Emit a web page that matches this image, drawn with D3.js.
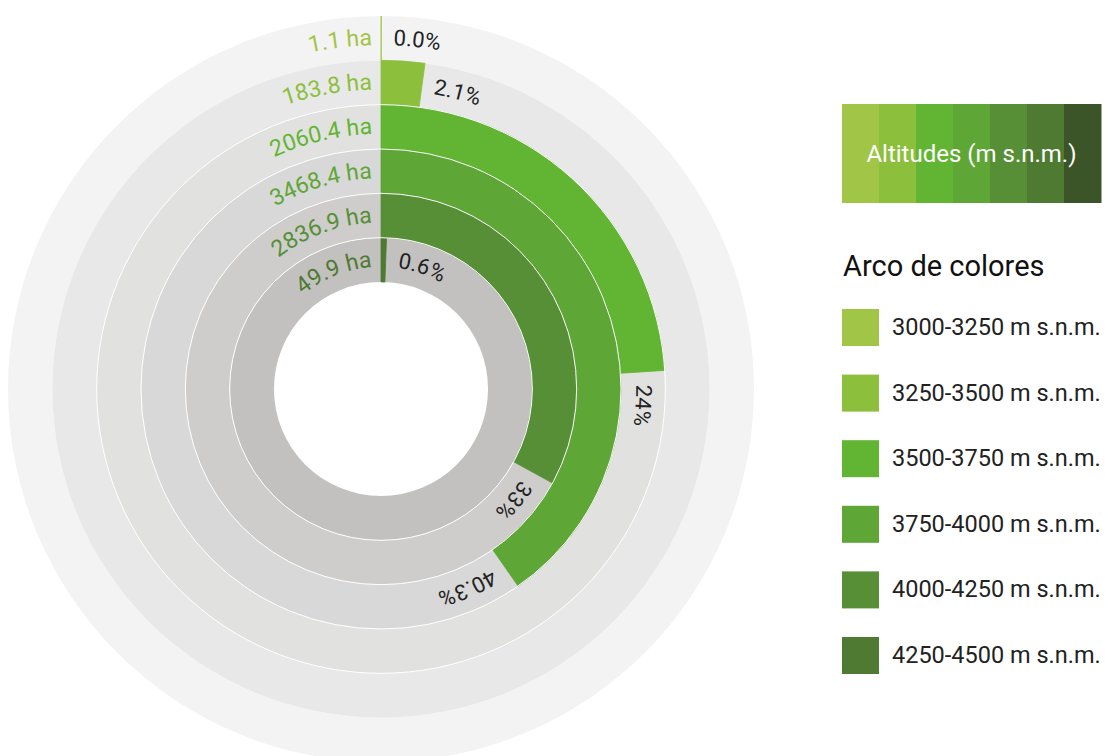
<!DOCTYPE html>
<html>
<head>
<meta charset="utf-8">
<script src="https://cdn.jsdelivr.net/npm/d3@7"></script>
<style>
  html, body { margin: 0; padding: 0; background: #ffffff; }
  svg { display: block; font-family: Roboto, "Noto Sans", sans-serif; }
</style>
</head>
<body>
<svg id="chart" width="1105" height="756"></svg>
<script>
// Altitude bands, outermost ring first
const bands = [
  "3000-3250 m s.n.m.",
  "3250-3500 m s.n.m.",
  "3500-3750 m s.n.m.",
  "3750-4000 m s.n.m.",
  "4000-4250 m s.n.m.",
  "4250-4500 m s.n.m."
];
// Surface per band, hectares
const hectares = [1.1, 183.8, 2060.4, 3468.4, 2836.9, 49.9];
// Share of the total surface, as printed on each ring
const percentLabels = ["0.0%", "2.1%", "24%", "40.3%", "33%", "0.6%"];
// Colour of each band
const bandColors = ["#a1c546", "#8cbf3c", "#62b533", "#5ea636", "#578f36", "#4f7a31"];
// Grey track under each ring
const trackColors = ["#f3f3f3", "#e8e8e8", "#e1e2e0", "#d7d8d7", "#cecdcc", "#c3c1c0"];
// Colour ramp shown in the legend header
const rampColors = ["#a1c546", "#8cbf3c", "#62b533", "#5ea636", "#578f36", "#4f7a31", "#3c5528"];

const svg = d3.select("#chart");
const cx = 381, cy = 389;
const innerHole = 107, outerEdge = 373;

const total = d3.sum(hectares);
const angle = d3.scaleLinear().domain([0, total]).range([0, 2 * Math.PI]);

// innermost band at the bottom of the radial range
const radius = d3.scaleBand()
  .domain(bands.slice().reverse())
  .range([innerHole, outerEdge])
  .padding(0);

const rows = bands.map((b, i) => ({
  band: b,
  ha: hectares[i],
  pct: percentLabels[i],
  color: bandColors[i],
  track: trackColors[i],
  r0: radius(b),
  r1: radius(b) + radius.bandwidth()
}));

const g = svg.append("g").attr("transform", `translate(${cx},${cy})`);
const arc = d3.arc();

// grey tracks
g.selectAll("path.track")
  .data(rows)
  .join("path")
  .attr("class", "track")
  .attr("fill", d => d.track)
  .attr("d", d => arc({ innerRadius: d.r0, outerRadius: d.r1, startAngle: 0, endAngle: 2 * Math.PI }));

// value arcs
g.selectAll("path.value")
  .data(rows)
  .join("path")
  .attr("class", "value")
  .attr("fill", d => d.color)
  .attr("stroke", d => d.color)
  .attr("stroke-width", 0.8)
  .attr("d", d => arc({ innerRadius: d.r0, outerRadius: d.r1, startAngle: 0, endAngle: angle(d.ha) }));

// thin white rims between the inner rings
g.selectAll("circle.rim")
  .data(rows.slice(2))
  .join("circle")
  .attr("class", "rim")
  .attr("r", d => d.r1)
  .attr("fill", "none")
  .attr("stroke", "#ffffff")
  .attr("stroke-width", 1);

// circular guide paths for the labels: start at the bottom, run clockwise
const defs = svg.append("defs");
const baseR = d => (d.r0 + d.r1) / 2 - 7;
rows.forEach((d, i) => {
  const r = baseR(d);
  defs.append("path")
    .attr("id", "ring-path-" + i)
    .attr("d", `M ${cx},${cy + r} A ${r},${r} 0 1,1 ${cx},${cy - r} A ${r},${r} 0 1,1 ${cx},${cy + r}`);
});

const gap = 9;

// hectare labels, ending just before the top
svg.append("g")
  .selectAll("text")
  .data(rows)
  .join("text")
  .attr("font-size", 23)
  .attr("fill", d => d.color)
  .append("textPath")
  .attr("href", (d, i) => "#ring-path-" + i)
  .attr("text-anchor", "end")
  .attr("startOffset", d => Math.PI * baseR(d) - gap)
  .text(d => d.ha + " ha");

// percentage labels, right after the end of each arc
svg.append("g")
  .selectAll("text")
  .data(rows)
  .join("text")
  .attr("font-size", 22)
  .attr("font-weight", 400)
  .attr("font-style", "normal")
  .attr("fill", "#222222")
  .append("textPath")
  .attr("href", (d, i) => "#ring-path-" + i)
  .attr("text-anchor", "start")
  .attr("startOffset", d => baseR(d) * (Math.PI + angle(d.ha)) + gap + 3)
  .text(d => d.pct);

// legend header: colour ramp with title
const header = svg.append("g").attr("transform", "translate(842,104)");
const stripe = d3.scaleBand().domain(d3.range(rampColors.length)).range([0, 259]);
header.selectAll("rect")
  .data(rampColors)
  .join("rect")
  .attr("x", (c, i) => stripe(i))
  .attr("y", 0)
  .attr("width", stripe.bandwidth() + 0.5)
  .attr("height", 99)
  .attr("fill", c => c);
header.append("text")
  .attr("x", 129.5)
  .attr("y", 58)
  .attr("text-anchor", "middle")
  .attr("font-size", 24)
  .attr("fill", "#ffffff")
  .text("Altitudes (m s.n.m.)");

// legend title and items
svg.append("text")
  .attr("x", 843)
  .attr("y", 276)
  .attr("font-size", 29)
  .attr("fill", "#111111")
  .text("Arco de colores");

const itemY = d3.scalePoint().domain(bands).range([309, 637]);
const items = svg.append("g")
  .selectAll("g")
  .data(rows)
  .join("g")
  .attr("transform", d => `translate(842,${itemY(d.band)})`);
items.append("rect")
  .attr("width", 37)
  .attr("height", 37)
  .attr("fill", d => d.color);
items.append("text")
  .attr("x", 50)
  .attr("y", 26)
  .attr("font-size", 23.5)
  .attr("fill", "#222222")
  .text(d => d.band);
</script>
</body>
</html>
